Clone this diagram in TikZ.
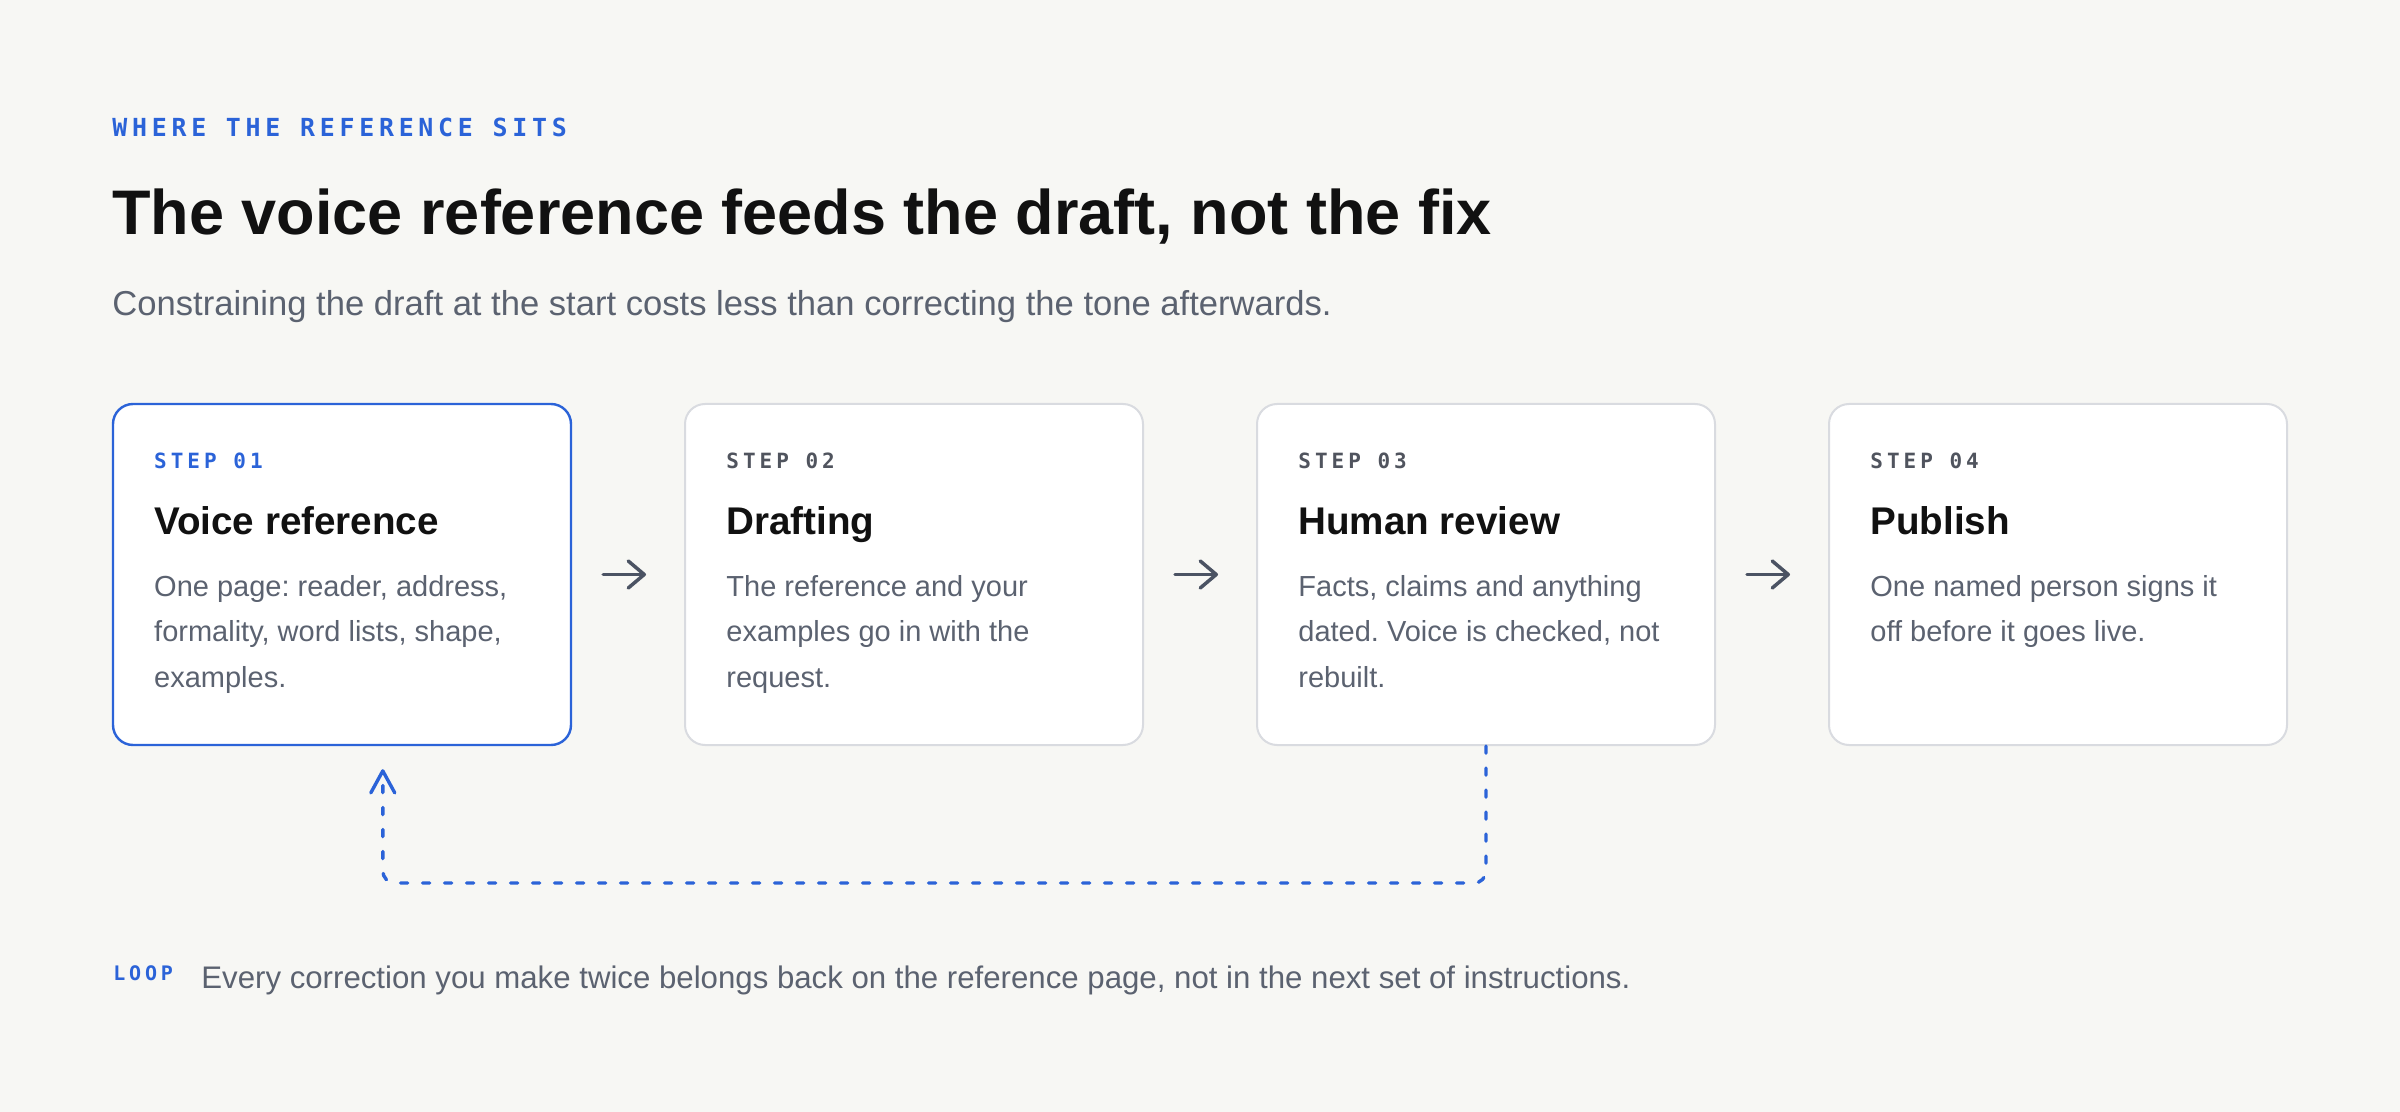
\documentclass[tikz,border=0pt]{standalone}
\usepackage{fontspec}
\setmainfont{Liberation Sans}
\newfontfamily\monoWide[LetterSpace=19]{DejaVu Sans Mono}
\usetikzlibrary{arrows.meta, positioning}
\frenchspacing
\definecolor{paperBg}{HTML}{F7F7F4}
\definecolor{accent}{HTML}{2B63D8}
\definecolor{inkDark}{HTML}{111111}
\definecolor{bodyGray}{HTML}{5B6270}
\definecolor{stepGray}{HTML}{50545E}
\definecolor{cardEdge}{HTML}{D9DBE0}
\definecolor{arrowGray}{HTML}{4B5363}
\tikzstyle{fCard} = [rectangle, rounded corners=10pt, minimum width=229pt, minimum height=170.5pt, draw=cardEdge, line width=1pt, fill=white]
\tikzstyle{fCardOn} = [fCard, draw=accent, line width=1.2pt]
\tikzstyle{fEyebrow} = [inner sep=0pt, anchor=base west, text=accent, font=\monoWide\bfseries\fontsize{12.45}{14}\selectfont]
\tikzstyle{fStep} = [inner sep=0pt, anchor=base west, text=stepGray, font=\monoWide\bfseries\fontsize{10.5}{12}\selectfont]
\tikzstyle{fHead} = [inner sep=0pt, anchor=base west, text=inkDark, font=\fontsize{19.3}{22}\selectfont\bfseries]
\tikzstyle{fBody} = [inner sep=0pt, anchor=north west, align=left, text=bodyGray, font=\fontsize{14.5}{22.75}\selectfont]
\tikzstyle{fArrow} = [line width=1.75pt, draw=arrowGray, line cap=round, -{Straight Barb[round, length=8pt, width=13.5pt]}, shorten <=15.5pt, shorten >=19pt]
\tikzstyle{fLoop} = [line width=1.7pt, draw=accent, line cap=round, dash pattern=on 3.6pt off 7.4pt, rounded corners=6pt, -{Straight Barb[round, length=11pt, width=12pt]}]
\begin{document}
\begin{tikzpicture}[x=0.5pt, y=-0.5pt, node distance=286pt]
    \fill[paperBg] (0,0) rectangle (2400,1112);

    \node (eyebrow) [fEyebrow] at (112,137) {WHERE THE REFERENCE SITS};
    \node (title) [inner sep=0pt, anchor=base west, text=inkDark, font=\fontsize{31.5}{36}\selectfont\bfseries] at (112,235) {The voice reference feeds the draft, not the fix};
    \node (subtitle) [inner sep=0pt, anchor=base west, text=bodyGray, font=\fontsize{17.3}{20}\selectfont] at (112,316) {Constraining the draft at the start costs less than correcting the tone afterwards.};

    \node (voiceRef) [fCardOn] at (342,574.5) {};
    \node (drafting) [fCard, right of=voiceRef] {};
    \node (review) [fCard, right of=drafting] {};
    \node (publish) [fCard, right of=review] {};

    \node (voiceRefStep) [fStep, text=accent] at ([shift={(21pt,-33pt)}]voiceRef.north west) {STEP 01};
    \node (voiceRefHead) [fHead] at ([shift={(21pt,-66pt)}]voiceRef.north west) {Voice reference};
    \node (voiceRefBody) [fBody] at ([shift={(21pt,-86pt)}]voiceRef.north west) {One page: reader, address,\\formality, word lists, shape,\\examples.};

    \node (draftingStep) [fStep] at ([shift={(21pt,-33pt)}]drafting.north west) {STEP 02};
    \node (draftingHead) [fHead] at ([shift={(21pt,-66pt)}]drafting.north west) {Drafting};
    \node (draftingBody) [fBody] at ([shift={(21pt,-86pt)}]drafting.north west) {The reference and your\\examples go in with the\\request.};

    \node (reviewStep) [fStep] at ([shift={(21pt,-33pt)}]review.north west) {STEP 03};
    \node (reviewHead) [fHead] at ([shift={(21pt,-66pt)}]review.north west) {Human review};
    \node (reviewBody) [fBody] at ([shift={(21pt,-86pt)}]review.north west) {Facts, claims and anything\\dated. Voice is checked, not\\rebuilt.};

    \node (publishStep) [fStep] at ([shift={(21pt,-33pt)}]publish.north west) {STEP 04};
    \node (publishHead) [fHead] at ([shift={(21pt,-66pt)}]publish.north west) {Publish};
    \node (publishBody) [fBody] at ([shift={(21pt,-86pt)}]publish.north west) {One named person signs it\\off before it goes live.};

    \draw [fArrow] (voiceRef) -- (drafting);
    \draw [fArrow] (drafting) -- (review);
    \draw [fArrow] (review) -- (publish);

    % corrections go back to the reference
    \coordinate (loopIn) at ([shift={(135.5pt,-11.5pt)}]voiceRef.south west);
    \draw [fLoop] (review.south) -- ++(0,137) -| (loopIn);

    \node (loopTag) [fEyebrow, font=\monoWide\bfseries\fontsize{10}{12}\selectfont] at (113,980) {LOOP};
    \node (loopNote) [inner sep=0pt, anchor=base west, text=bodyGray, font=\fontsize{15.6}{18}\selectfont] at (201,988) {Every correction you make twice belongs back on the reference page, not in the next set of instructions.};
\end{tikzpicture}
\end{document}
